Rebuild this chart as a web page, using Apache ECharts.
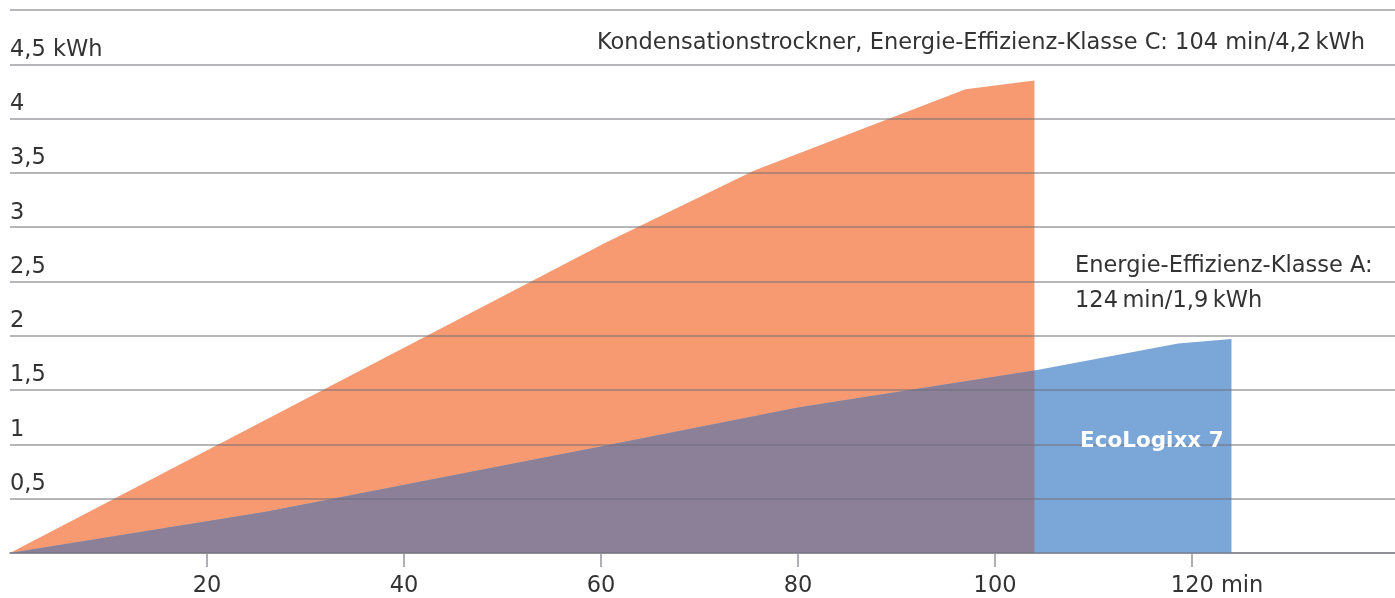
<!DOCTYPE html>
<html>
<head>
<meta charset="utf-8">
<style>
  html, body { margin: 0; padding: 0; background: #fff; }
  #chart { width: 1395px; height: 598px; }
</style>
<script src="https://cdn.jsdelivr.net/npm/echarts@6/dist/echarts.min.js"></script>
</head>
<body>
<div id="chart"></div>
<script>
// Kondensationstrockner (Klasse C): [min, kWh]
const dryerC = [[0, 0], [60.5, 2.86], [75.5, 3.52], [97, 4.27], [104, 4.35]];
// EcoLogixx 7 (Klasse A): [min, kWh]
const ecoA = [[0, 0], [26, 0.38], [60, 0.98], [80, 1.34], [104, 1.68], [118.6, 1.93], [124, 1.97]];
// Teil von ecoA unter der orangen Fläche
const ecoOverlap = ecoA.filter((p) => p[0] <= 104);

const xTicks = [20, 40, 60, 80, 100, 120];
const yTicks = [0.5, 1, 1.5, 2, 2.5, 3, 3.5, 4, 4.5];

const titleC = "Kondensationstrockner, Energie-Effizienz-Klasse C: 104 min/4,2\u2009kWh";
const labelA1 = "Energie-Effizienz-Klasse A:";
const labelA2 = "124\u2009min/1,9\u2009kWh";
const labelEco = "EcoLogixx 7";

const FONT = "'DejaVu Sans', sans-serif";
const FS = 22.5;

const chart = echarts.init(document.getElementById("chart"));

const option = {
  animation: false,
  grid: { left: 10, right: 0, top: 10, bottom: 44 },
  xAxis: {
    type: "value",
    min: 0,
    max: 140.6,
    splitLine: { show: false },
    axisLine: { show: true, lineStyle: { color: "#b0b0b4", width: 2 } },
    axisTick: {
      show: true,
      customValues: xTicks,
      length: 14,
      lineStyle: { color: "#b0b0b4", width: 2 },
    },
    axisLabel: {
      customValues: xTicks,
      margin: 22,
      color: "#333",
      fontSize: FS,
      fontFamily: FONT,
      formatter: (v) => (v === 120 ? "{u|120 min}" : String(v)),
      rich: {
        // " min" soll rechts vom Tick hängen, "120" bleibt zentriert
        u: { fontSize: FS, fontFamily: FONT, color: "#333", padding: [0, 0, 0, 50] },
      },
    },
  },
  yAxis: {
    type: "value",
    min: 0,
    max: 5,
    interval: 0.5,
    z: 5,
    axisLine: { show: false },
    axisTick: { show: false },
    splitLine: {
      show: true,
      lineStyle: { color: "rgba(110,110,120,0.5)", width: 2 },
    },
    axisLabel: {
      inside: true,
      customValues: yTicks,
      margin: 0,
      verticalAlign: "bottom",
      padding: [0, 0, 3, 0],
      color: "#333",
      fontSize: FS,
      fontFamily: FONT,
      formatter: (v) => {
        const s = String(v).replace(".", ",");
        return v === 4.5 ? s + " kWh" : s;
      },
    },
  },
  series: [
    {
      name: "Klasse C",
      type: "line",
      data: dryerC,
      symbol: "none",
      lineStyle: { width: 0 },
      areaStyle: { color: "#f79a72", opacity: 1 },
      z: 2,
    },
    {
      name: "EcoLogixx 7",
      type: "line",
      data: ecoA,
      symbol: "none",
      lineStyle: { width: 0 },
      areaStyle: { color: "#7ba6d8", opacity: 1 },
      z: 3,
    },
    {
      name: "Überlappung",
      type: "line",
      data: ecoOverlap,
      symbol: "none",
      lineStyle: { width: 0 },
      areaStyle: { color: "#8b8098", opacity: 1 },
      z: 4,
    },
  ],
  graphic: [
    {
      type: "text",
      x: 1365,
      y: 43,
      z: 10,
      style: {
        text: titleC,
        font: FS + "px " + FONT,
        fill: "#333",
        textAlign: "right",
        textVerticalAlign: "middle",
      },
    },
    {
      type: "text",
      x: 1075,
      y: 266,
      z: 10,
      style: {
        text: labelA1,
        font: FS + "px " + FONT,
        fill: "#333",
        textAlign: "left",
        textVerticalAlign: "middle",
      },
    },
    {
      type: "text",
      x: 1075,
      y: 301,
      z: 10,
      style: {
        text: labelA2,
        font: FS + "px " + FONT,
        fill: "#333",
        textAlign: "left",
        textVerticalAlign: "middle",
      },
    },
    {
      type: "text",
      x: 1080,
      y: 441,
      z: 10,
      style: {
        text: labelEco,
        font: "bold " + (FS - 1) + "px " + FONT,
        fill: "#fff",
        textAlign: "left",
        textVerticalAlign: "middle",
      },
    },
  ],
};

chart.setOption(option);
</script>
</body>
</html>
